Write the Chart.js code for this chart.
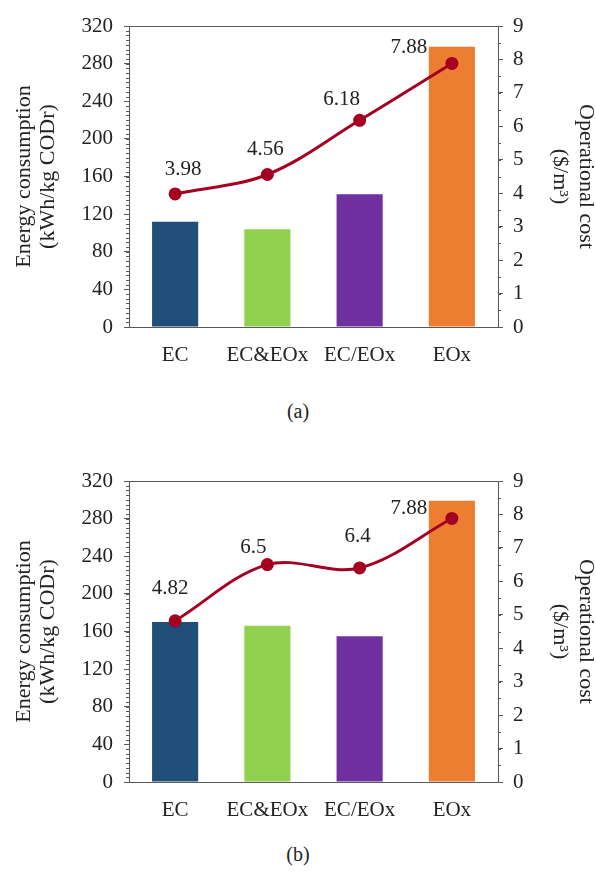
<!DOCTYPE html>
<html>
<head>
<meta charset="utf-8">
<script src="https://cdn.jsdelivr.net/npm/chart.js@4"></script>
<style>
  body { margin: 0; background: #fff; width: 596px; height: 881px; position: relative; overflow: hidden; }
  .box { position: absolute; left: 0; width: 596px; height: 385px; }
  .cap { position: absolute; left: 0; width: 596px; text-align: center; font: 20px "Liberation Serif", serif; color: #222; }
</style>
</head>
<body>
<div class="box" style="top:0"><canvas id="chartA" width="596" height="385"></canvas></div>
<div class="cap" style="top:400px">(a)</div>
<div class="box" style="top:455px"><canvas id="chartB" width="596" height="385"></canvas></div>
<div class="cap" style="top:843px">(b)</div>
<script>
// categorias e valores
var categories = ["EC", "EC&EOx", "EC/EOx", "EOx"];
var barColors = ["#1F4E79", "#92D050", "#7030A0", "#ED7D31"];

// (a)
var energyA = [112, 104, 141, 298];
var costA = [3.98, 4.56, 6.18, 7.88];
// (b)
var energyB = [170, 166, 155, 299];
var costB = [4.82, 6.5, 6.4, 7.88];

// onde fica o texto de cada ponto (deslocamento em px)
var labelOffsetsA = [[8, -24], [-2, -25], [-18, -21], [-43, -16]];
var labelOffsetsB = [[-5, -32], [-14, -17], [-2, -31], [-43, -10]];

var font = { family: "'Liberation Serif', serif", size: 21 };
var titleFont = { family: "'Liberation Serif', serif", size: 22, lineHeight: 1.1 };
var titleFontR = { family: "'Liberation Serif', serif", size: 22, lineHeight: 1.2 };
var axisColor = '#595959';
var textColor = '#222';

// risquinhos menores nos eixos + moldura do grafico + rotulos
var extrasPlugin = {
  id: 'extras',
  afterDraw: function (chart) {
    var ctx = chart.ctx;
    var a = chart.chartArea;
    ctx.save();
    ctx.strokeStyle = axisColor;
    ctx.lineWidth = 1;
    ctx.strokeRect(a.left + 0.5, a.top + 0.5, a.right - a.left, a.bottom - a.top);

    [['y', 5, -1], ['y2', 0.5, 1]].forEach(function (s) {
      var sc = chart.scales[s[0]];
      var x = s[2] < 0 ? a.left : a.right;
      for (var v = sc.min; v <= sc.max + 1e-9; v += s[1]) {
        var py = Math.round(sc.getPixelForValue(v)) + 0.5;
        ctx.beginPath();
        ctx.moveTo(x, py);
        ctx.lineTo(x + s[2] * 3, py);
        ctx.stroke();
      }
    });

    var offs = chart.options.plugins.extras.offsets;
    var meta = chart.getDatasetMeta(0);
    var vals = chart.data.datasets[0].data;
    ctx.fillStyle = textColor;
    ctx.font = font.size + 'px ' + font.family;
    ctx.textAlign = 'center';
    ctx.textBaseline = 'middle';
    meta.data.forEach(function (pt, i) {
      ctx.fillText(String(vals[i]), pt.x + offs[i][0], pt.y + offs[i][1]);
    });
    ctx.restore();
  }
};

function makeChart(id, energy, cost, offsets) {
  return new Chart(document.getElementById(id), {
    type: 'bar',
    data: {
      labels: categories,
      datasets: [{
        type: 'line',
        label: 'Operational cost',
        data: cost,
        yAxisID: 'y2',
        borderColor: '#A50021',
        backgroundColor: '#A50021',
        borderWidth: 3,
        tension: 0.35,
        pointRadius: 5,
        pointBackgroundColor: '#A50021',
        pointBorderColor: '#A50021',
        order: 0
      }, {
        type: 'bar',
        label: 'Energy consumption',
        data: energy,
        yAxisID: 'y',
        backgroundColor: barColors,
        barPercentage: 0.5,
        categoryPercentage: 1,
        order: 1
      }]
    },
    options: {
      responsive: false,
      animation: false,
      layout: { padding: { top: 26, left: 0, right: 0, bottom: 0 } },
      plugins: {
        legend: { display: false },
        tooltip: { enabled: false },
        extras: { offsets: offsets }
      },
      scales: {
        x: {
          grid: { display: false, drawTicks: false },
          border: { color: axisColor },
          ticks: { font: font, color: textColor, padding: 16 },
          afterFit: function (s) { s.height = 58; }
        },
        y: {
          position: 'left',
          min: 0, max: 320,
          grid: { drawOnChartArea: false, tickLength: 5, tickColor: axisColor },
          border: { color: axisColor },
          ticks: { stepSize: 40, font: font, color: textColor, padding: 11 },
          title: {
            display: true,
            text: ['Energy consumption', '(kWh/kg CODr)'],
            font: titleFont, color: textColor, padding: { top: 12, bottom: 0 }
          },
          afterFit: function (s) { s.width = 129; }
        },
        y2: {
          position: 'right',
          min: 0, max: 9,
          grid: { drawOnChartArea: false, tickLength: 5, tickColor: axisColor },
          border: { color: axisColor },
          ticks: { stepSize: 1, font: font, color: textColor, padding: 10 },
          title: {
            display: true,
            text: ['Operational cost', '($/m\u00B3)'],
            font: titleFontR, color: textColor, padding: { top: -3, bottom: 0 }
          },
          afterFit: function (s) { s.width = 98; }
        }
      }
    },
    plugins: [extrasPlugin]
  });
}

makeChart('chartA', energyA, costA, labelOffsetsA);
makeChart('chartB', energyB, costB, labelOffsetsB);
</script>
</body>
</html>
